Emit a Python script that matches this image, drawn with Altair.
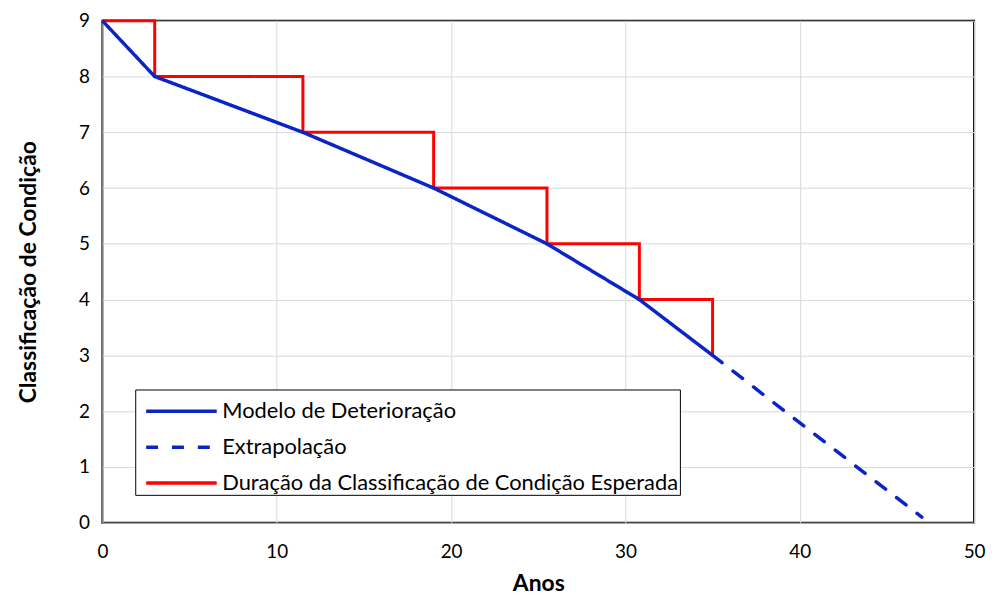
import altair as alt
import pandas as pd

years = [0, 3, 11.5, 19, 25.5, 30.8, 35]
ratings = [9, 8, 7, 6, 5, 4, 3]
extra_years = [35, 47]
extra_ratings = [3, 0.1]

s_model = "Modelo de Deterioração"
s_extra = "Extrapolação"
s_dur = "Duração da Classificação de Condição Esperada"
series_order = [s_model, s_extra, s_dur]

df_model = pd.DataFrame({"x": years, "y": ratings, "s": s_model})
df_extra = pd.DataFrame({"x": extra_years, "y": extra_ratings, "s": s_extra})
df_dur = pd.DataFrame({"x": years, "y": ratings, "s": s_dur})

FONT = "Lato"
BLUE = "#0A24C6"
RED = "#FF0000"

xenc = alt.X("x:Q", scale=alt.Scale(domain=[0, 50], nice=False),
             axis=alt.Axis(values=[0, 10, 20, 30, 40, 50], title="Anos"))
yenc = alt.Y("y:Q", scale=alt.Scale(domain=[0, 9], nice=False),
             axis=alt.Axis(values=list(range(10)), title="Classificação de Condição"))
color = alt.Color("s:N", scale=alt.Scale(domain=series_order, range=[BLUE, BLUE, RED]),
                  legend=alt.Legend(title=None, orient="none", legendX=33, legendY=371))
dash = alt.StrokeDash("s:N", scale=alt.Scale(domain=series_order, range=[[1, 0], [12, 14], [1, 0]]),
                      legend=alt.Legend(title=None, orient="none", legendX=33, legendY=371))

red = alt.Chart(df_dur).mark_line(interpolate="step-after", strokeWidth=3, strokeCap="butt").encode(
    x=xenc, y=yenc, color=color, strokeDash=dash)
blue = alt.Chart(df_model).mark_line(strokeWidth=3.5).encode(
    x=xenc, y=yenc, color=color, strokeDash=dash)
ext = alt.Chart(df_extra).mark_line(strokeWidth=3.5, strokeCap="round").encode(
    x=xenc, y=yenc, color=color, strokeDash=dash)

chart = alt.layer(red, blue, ext).properties(
    width=877, height=505,
    autosize=alt.AutoSizeParams(type="none"),
    padding={"left": 95, "top": 11, "right": 16, "bottom": 80},
).configure_view(stroke="black", strokeWidth=2).configure_axis(
    grid=True, gridColor="#d9d9d9", gridWidth=1, domain=False, ticks=False,
    labelFlush=False, labelOverlap=False,
    labelFont=FONT, labelFontSize=19, labelColor="black",
    titleFont=FONT, titleFontSize=23, titleFontWeight="bold", titleColor="black",
).configure_axisX(labelPadding=20, titlePadding=11).configure_axisY(
    labelPadding=13, titlePadding=38).configure_legend(
    labelFont=FONT, labelFontSize=22, labelColor="black", labelLimit=0,
    symbolType="M-1.868,0H1.868", symbolSize=1444, symbolStrokeWidth=3.5,
    symbolOffset=24.5, labelOffset=20,
    strokeColor="black", fillColor="white", padding=1, rowPadding=4,
)

chart.save("out.html", embed_options={"renderer": "svg", "actions": False})
